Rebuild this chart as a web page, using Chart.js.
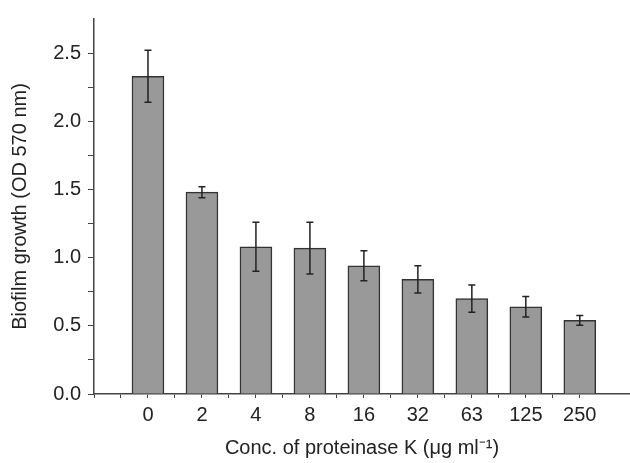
<!DOCTYPE html>
<html>
<head>
<meta charset="utf-8">
<script src="https://cdn.jsdelivr.net/npm/chart.js@4"></script>
<style>
  body { margin: 0; background: #fff; }
</style>
</head>
<body>
<canvas id="chart" width="630" height="463"></canvas>
<script>
// Data
const concLabels = ['0', '2', '4', '8', '16', '32', '63', '125', '250'];
const growthValues = [2.33, 1.48, 1.08, 1.07, 0.94, 0.84, 0.70, 0.64, 0.54];
const growthErrors = [0.19, 0.04, 0.18, 0.19, 0.11, 0.10, 0.10, 0.075, 0.035];

const axisColor = '#444';
const textColor = '#222';
const font = { family: '"Liberation Sans", Arial, sans-serif', size: 20 };

// Draw the error bars through the chart's scales
const errorBars = {
    id: 'errorBars',
    afterDatasetsDraw(chart) {
        const { ctx, scales: { x, y } } = chart;
        ctx.save();
        ctx.strokeStyle = '#222';
        ctx.lineWidth = 1.5;
        growthValues.forEach((v, i) => {
            const px = x.getPixelForValue(i);
            const top = y.getPixelForValue(v + growthErrors[i]);
            const bot = y.getPixelForValue(v - growthErrors[i]);
            ctx.beginPath();
            ctx.moveTo(px, top);
            ctx.lineTo(px, bot);
            ctx.moveTo(px - 3.5, top);
            ctx.lineTo(px + 3.5, top);
            ctx.moveTo(px - 3.5, bot);
            ctx.lineTo(px + 3.5, bot);
            ctx.stroke();
        });
        ctx.restore();
    }
};

new Chart(document.getElementById('chart').getContext('2d'), {
    type: 'bar',
    data: {
        datasets: [{
            data: growthValues.map((v, i) => ({ x: i, y: v })),
            backgroundColor: '#999999',
            borderColor: '#333333',
            borderWidth: 1.5,
            barThickness: 32
        }]
    },
    options: {
        responsive: false,
        animation: false,
        layout: { padding: { top: 12, right: 0, left: 0, bottom: 0 } },
        plugins: { legend: { display: false }, tooltip: { enabled: false } },
        scales: {
            x: {
                type: 'linear',
                offset: false,
                min: -1,
                max: 8.93,
                afterFit(scale) { scale.height = 69; },
                border: { display: true, color: axisColor, width: 1.5 },
                grid: { drawOnChartArea: false, offset: false, color: axisColor, tickLength: 4, lineWidth: 1 },
                ticks: {
                    stepSize: 0.5,
                    autoSkip: false,
                    maxRotation: 0,
                    padding: 5,
                    color: textColor,
                    font: font,
                    callback(value) {
                        if (Number.isInteger(value) && value >= 0 && value < concLabels.length) return concLabels[value];
                        if (Number.isInteger(value * 2)) return '';
                        return null;
                    }
                },
                title: {
                    display: true,
                    text: 'Conc. of proteinase K (μg ml⁻¹)',
                    color: textColor,
                    font: font,
                    padding: { top: 0, bottom: 3 }
                }
            },
            y: {
                min: 0,
                max: 2.75,
                afterFit(scale) { scale.width = 94; },
                border: { display: true, color: axisColor, width: 1.5 },
                grid: { drawOnChartArea: false, color: axisColor, tickLength: 6, lineWidth: 1 },
                ticks: {
                    stepSize: 0.25,
                    padding: 7,
                    color: textColor,
                    font: font,
                    callback(value) {
                        if (value > 2.6) return null;
                        if (Number.isInteger(value * 2)) return value.toFixed(1);
                        return '';
                    }
                },
                title: {
                    display: true,
                    text: 'Biofilm growth (OD 570 nm)',
                    color: textColor,
                    font: font,
                    padding: { top: 8, bottom: 0 }
                }
            }
        }
    },
    plugins: [errorBars]
});
</script>
</body>
</html>
